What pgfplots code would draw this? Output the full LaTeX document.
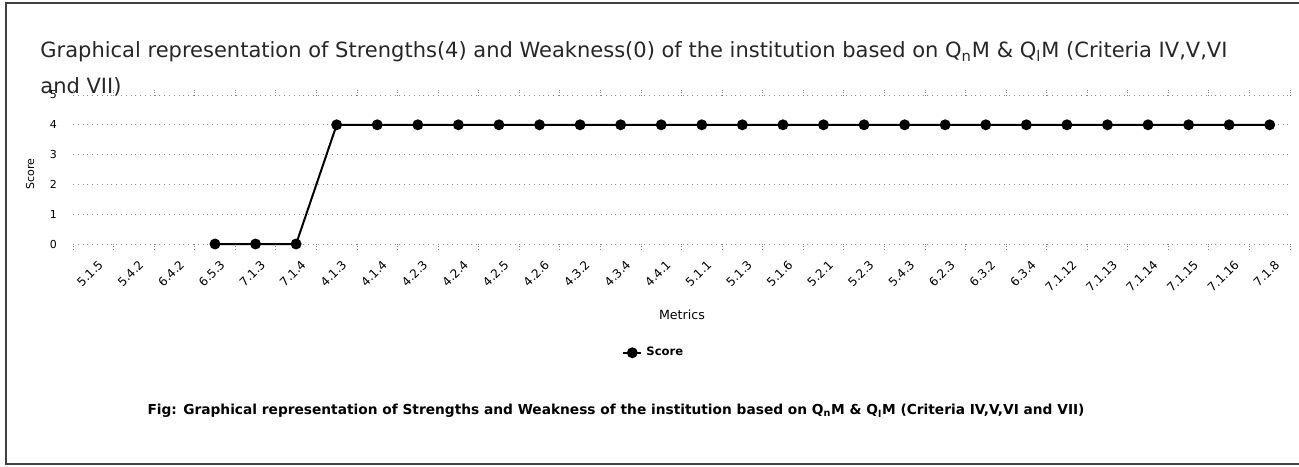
\documentclass[border=0pt]{standalone}
\usepackage{pgfplots}
\pgfplotsset{compat=1.18}
\usepackage{fontspec}
\setmainfont{DejaVu Sans}
\begin{document}
\begin{tikzpicture}[x=0.5pt,y=0.5pt]
\useasboundingbox (0,0) rectangle (1299,466);
\draw[black!75, line width=0.8pt] (1299,463) -- (6,463) -- (6,2) -- (1299,2);
\node[anchor=base west, inner sep=0pt, font=\fontsize{10.5}{12}\selectfont, text=black!85] at (40,408)
  {Graphical representation of Strengths(4) and Weakness(0) of the institution based on Q\textsubscript{n}M \& Q\textsubscript{l}M (Criteria IV,V,VI};
\node[anchor=base west, inner sep=0pt, font=\fontsize{10.5}{12}\selectfont, text=black!85] at (40,372) {and VII)};
\begin{axis}[
  at={(36.5pt,111pt)}, anchor=south west,
  scale only axis, width=608.5pt, height=74.5pt,
  xmin=0, xmax=30, ymin=0, ymax=5,
  axis line style={draw=none},
  /pgf/number format/assume math mode=true,
  xtick={0,...,30},
  x tick label as interval,
  xticklabels={5.1.5,5.4.2,6.4.2,6.5.3,7.1.3,7.1.4,4.1.3,4.1.4,4.2.3,4.2.4,4.2.5,4.2.6,4.3.2,4.3.4,4.4.1,5.1.1,5.1.3,5.1.6,5.2.1,5.2.3,5.4.3,6.2.3,6.3.2,6.3.4,7.1.12,7.1.13,7.1.14,7.1.15,7.1.16,7.1.8},
  xticklabel style={rotate=45, anchor=north east, font=\fontsize{6}{7}\selectfont, inner sep=1pt, yshift=-4pt, xshift=-1pt},
  ytick={0,1,2,3,4,5},
  yticklabel style={font=\fontsize{5.5}{6}\selectfont},
  yticklabel shift=2pt,
  tick align=outside,
  major tick length=2.5pt,
  xtick style={black!50, densely dotted, line width=0.4pt},
  ytick style={draw=none},
  ymajorgrids,
  grid style={black!45, dotted, line width=0.4pt},
  ylabel={Score},
  ylabel style={font=\fontsize{5.5}{6}\selectfont, at={(axis description cs:-0.0353,0.47)}, anchor=center},
  xlabel={Metrics},
  xlabel style={font=\fontsize{6.3}{7}\selectfont, at={(axis description cs:0.5004,-0.477)}, anchor=center},
  legend style={draw=none, at={(axis description cs:0.478,-0.73)}, anchor=center, font=\bfseries\fontsize{5.8}{7}\selectfont, inner sep=1pt},
  legend image code/.code={\draw[mark repeat=2,mark phase=2] plot coordinates {(0cm,0cm)(0.16cm,0cm)(0.32cm,0cm)};},
  clip=false,
]
\addplot[black, line width=1pt, mark=*, mark size=2.2pt] coordinates {
(3.5,0)(4.5,0)(5.5,0)(6.5,4)(7.5,4)(8.5,4)(9.5,4)(10.5,4)(11.5,4)(12.5,4)(13.5,4)(14.5,4)(15.5,4)(16.5,4)(17.5,4)(18.5,4)(19.5,4)(20.5,4)(21.5,4)(22.5,4)(23.5,4)(24.5,4)(25.5,4)(26.5,4)(27.5,4)(28.5,4)(29.5,4)};
\addlegendentry{Score}
\end{axis}
\node[anchor=center, inner sep=0pt] at (616,55) {\resizebox{468.5pt}{!}{\bfseries Fig: Graphical representation of Strengths and Weakness of the institution based on Q\textsubscript{n}M \& Q\textsubscript{l}M (Criteria IV,V,VI and VII)}};
\end{tikzpicture}
\end{document}
